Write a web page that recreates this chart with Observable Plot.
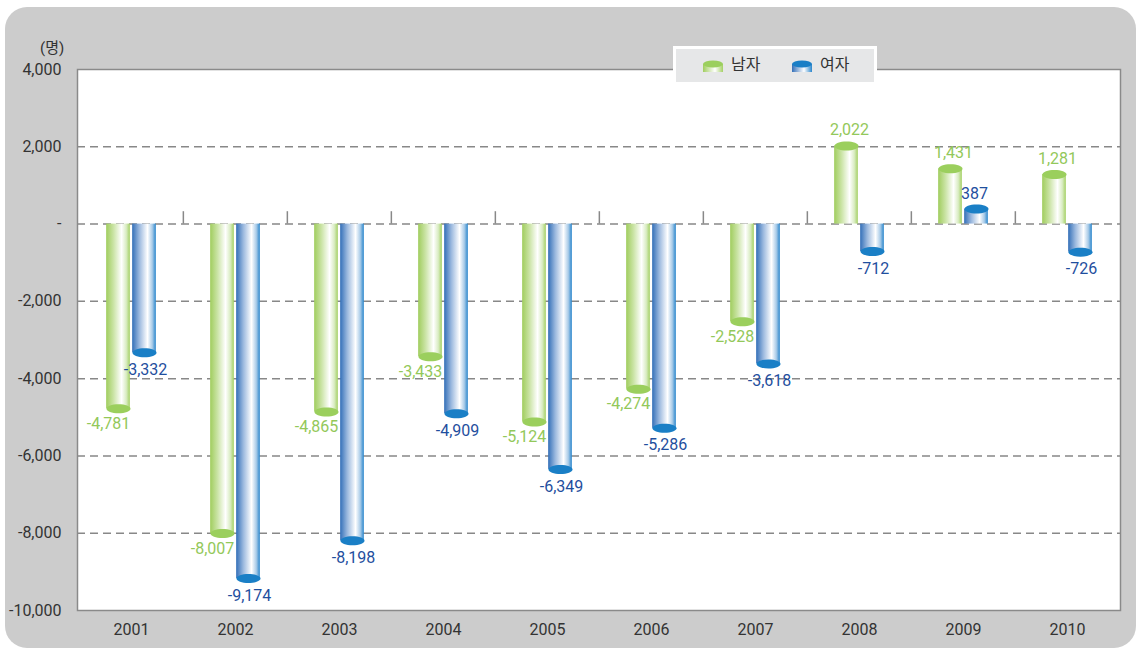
<!DOCTYPE html>
<html>
<head>
<meta charset="utf-8">
<script src="https://cdn.jsdelivr.net/npm/d3@7"></script>
<script src="https://cdn.jsdelivr.net/npm/@observablehq/plot@0.6"></script>
<style>
  html, body { margin: 0; padding: 0; background: #ffffff; }
  #wrap { position: relative; width: 1141px; height: 651px; overflow: hidden;
          font-family: Roboto, "Noto Sans CJK KR", sans-serif; }
  #bg { position: absolute; left: 5px; top: 7px; width: 1131px; height: 641px;
        background: #cccccc; border-radius: 22px; }
  #chart { position: absolute; left: 0; top: 0; }
  #unit { position: absolute; left: 40px; top: 39px; font-size: 15px; line-height: 18px; color: #333; }
  #legend { position: absolute; left: 673px; top: 46px; width: 198px; height: 33px;
            background: #e6e7e8; border: 3px solid #ffffff; }
  .li { position: absolute; top: 6px; font-size: 16px; color: #333; line-height: 20px; }
  .ic { position: absolute; top: 10px; }
</style>
</head>
<body>
<div id="wrap">
  <div id="bg"></div>
  <div id="chart"></div>
  <div id="unit">(명)</div>
  <div id="legend"></div>
</div>
<script>
// ---- data ----
const years = ["2001","2002","2003","2004","2005","2006","2007","2008","2009","2010"];
const male   = [-4781, -8007, -4865, -3433, -5124, -4274, -2528, 2022, 1431, 1281];
const female = [-3332, -9174, -8198, -4909, -6349, -5286, -3618, -712, 387, -726];
const seriesNames = ["남자", "여자"];
const yTicks = [4000, 2000, 0, -2000, -4000, -6000, -8000, -10000];
const gridTicks = [2000, 0, -2000, -4000, -6000, -8000];

// ---- styles ----
const GREEN_TEXT = "#93c85a", BLUE_TEXT = "#1f4f9e";
const GREEN_CAP = "#9bcf5d", BLUE_CAP = "#1a7fc6";

const maleData = years.map((y, i) => ({year: y, value: male[i]}));
const femaleData = years.map((y, i) => ({year: y, value: female[i]}));

const locale = d3.formatLocale({decimal: ".", thousands: ",", grouping: [3], currency: ["", ""], minus: "-"});
const fmt = locale.format(",");
const tickFmt = d => d === 0 ? "-" : fmt(d);

const ellipse = {
  draw(ctx) {
    const rx = 12, ry = 4.5, k = 0.5523;
    ctx.moveTo(rx, 0);
    ctx.bezierCurveTo(rx, ry * k, rx * k, ry, 0, ry);
    ctx.bezierCurveTo(-rx * k, ry, -rx, ry * k, -rx, 0);
    ctx.bezierCurveTo(-rx, -ry * k, -rx * k, -ry, 0, -ry);
    ctx.bezierCurveTo(rx * k, -ry, rx, -ry * k, rx, 0);
    ctx.closePath();
  }
};

function defs() {
  const ns = "http://www.w3.org/2000/svg";
  const d = document.createElementNS(ns, "defs");
  const mk = (id, stops) => {
    const g = document.createElementNS(ns, "linearGradient");
    g.setAttribute("id", id);
    g.setAttribute("x1", "0"); g.setAttribute("x2", "1");
    g.setAttribute("y1", "0"); g.setAttribute("y2", "0");
    for (const [o, c] of stops) {
      const s = document.createElementNS(ns, "stop");
      s.setAttribute("offset", o); s.setAttribute("stop-color", c);
      g.appendChild(s);
    }
    d.appendChild(g);
  };
  mk("gGreen", [["0", "#a0cd5e"], ["0.3", "#c9e3a3"], ["0.65", "#ffffff"], ["0.85", "#d9ecc2"], ["1", "#a4d064"]]);
  mk("gBlue", [["0", "#336fb8"], ["0.3", "#9ab8de"], ["0.65", "#ffffff"], ["0.85", "#a9cbe8"], ["1", "#2a86cc"]]);
  return d;
}

const bw = (1141 - 77 - 21) / years.length;
const inset = (bw - 24) / 2;
const off = 13;
const font = {fontSize: 16};

const chart = Plot.plot({
  width: 1141,
  height: 651,
  marginLeft: 77,
  marginRight: 21,
  marginTop: 69,
  marginBottom: 41,
  style: {background: "transparent", fontFamily: 'Roboto, "Noto Sans CJK KR", sans-serif', color: "#333", overflow: "visible"},
  x: {type: "band", domain: years, padding: 0},
  y: {domain: [-10000, 4000]},
  marks: [
    defs,
    Plot.frame({fill: "white", stroke: "none"}),
    Plot.ruleY(gridTicks, {stroke: "#888", strokeWidth: 1.5, strokeDasharray: "8,5"}),
    Plot.ruleX(years.slice(1), {x: d => d, dx: -bw / 2, y1: 0, y2: 320, stroke: "#888", strokeWidth: 1.5}),
    Plot.frame({stroke: "#8a8a8a", strokeWidth: 1.5}),
    Plot.axisY({ticks: yTicks, tickFormat: tickFmt, tickSize: 0, tickPadding: 16, label: null, fontSize: 16, fill: "#333"}),
    Plot.axisX({tickSize: 0, tickPadding: 13, label: null, fontSize: 16, fill: "#333"}),
    Plot.barY(maleData, {x: "year", y: "value", insetLeft: inset, insetRight: inset, dx: -off, fill: "url(#gGreen)"}),
    Plot.barY(femaleData, {x: "year", y: "value", insetLeft: inset, insetRight: inset, dx: off, fill: "url(#gBlue)"}),
    Plot.dot(maleData, {x: "year", y: "value", dx: -off, symbol: ellipse, fill: GREEN_CAP, stroke: "none"}),
    Plot.dot(femaleData, {x: "year", y: "value", dx: off, symbol: ellipse, fill: BLUE_CAP, stroke: "none"}),
    Plot.text(maleData.filter(d => d.value < 0), {x: "year", y: "value", text: d => fmt(d.value), dx: -off - 10, dy: 15, fill: GREEN_TEXT, ...font}),
    Plot.text(maleData.filter(d => d.value >= 0), {x: "year", y: "value", text: d => fmt(d.value), dx: -off + 3, dy: -16, fill: GREEN_TEXT, ...font}),
    Plot.text(femaleData.filter(d => d.value < 0), {x: "year", y: "value", text: d => fmt(d.value), dx: off + 1, dy: 17, fill: BLUE_TEXT, ...font}),
    Plot.text(femaleData.filter(d => d.value >= 0), {x: "year", y: "value", text: d => fmt(d.value), dx: off - 2, dy: -15, fill: BLUE_TEXT, ...font})
  ]
});
document.getElementById("chart").appendChild(chart);

// legend
const legend = document.getElementById("legend");
const icon = (c1, c2, cap) =>
  `<svg width="22" height="14" viewBox="0 0 22 14">
     <defs><linearGradient id="lg${cap.slice(1)}" x1="0" x2="1"><stop offset="0" stop-color="${c1}"/><stop offset="0.6" stop-color="#fff"/><stop offset="1" stop-color="${c2}"/></linearGradient></defs>
     <rect x="1" y="4" width="20" height="8" fill="url(#lg${cap.slice(1)})"/>
     <ellipse cx="11" cy="4" rx="10" ry="3.5" fill="${cap}"/>
   </svg>`;
const items = [
  {name: seriesNames[0], c1: "#a0cd5e", c2: "#a4d064", cap: GREEN_CAP, ix: 26, tx: 55},
  {name: seriesNames[1], c1: "#336fb8", c2: "#2a86cc", cap: BLUE_CAP, ix: 115, tx: 144}
];
for (const it of items) {
  legend.insertAdjacentHTML("beforeend",
    `<div class="ic" style="left:${it.ix}px">${icon(it.c1, it.c2, it.cap)}</div><div class="li" style="left:${it.tx}px">${it.name}</div>`);
}
</script>
</body>
</html>
